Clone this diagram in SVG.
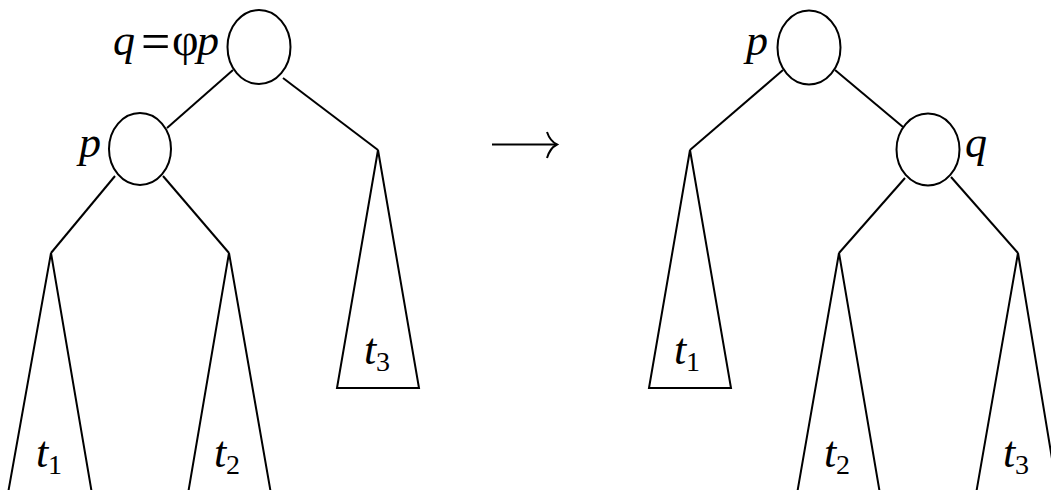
<svg xmlns="http://www.w3.org/2000/svg" width="1051" height="490" viewBox="0 0 1051 490">
<style>
.n{fill:#fff;stroke:#000;stroke-width:2}
.e{fill:none;stroke:#000;stroke-width:2;stroke-linejoin:miter}
.lb{font-family:"Liberation Serif","Times New Roman",serif;font-style:italic;font-size:44px;fill:#000}
.up{font-style:normal}
.sb{font-family:"Liberation Serif","Times New Roman",serif;font-size:28px;fill:#000}
</style>
<rect width="1051" height="490" fill="#fff"/>
<g id="connectors">
<line class="e" x1="233" y1="70" x2="167" y2="128"/>
<line class="e" x1="283" y1="78" x2="378" y2="150"/>
<line class="e" x1="115" y1="176" x2="51" y2="253"/>
<line class="e" x1="163" y1="176" x2="229" y2="253"/>
<line class="e" x1="783" y1="70" x2="690" y2="150"/>
<line class="e" x1="835" y1="70" x2="903" y2="127"/>
<line class="e" x1="905" y1="178" x2="839" y2="253"/>
<line class="e" x1="951" y1="177" x2="1018" y2="253"/>
<g id="arrow">
<line class="e" x1="492" y1="144.5" x2="556" y2="144.5"/>
<path class="e" d="M547,132 Q550,141 557,144.5 Q550,148 547,158"/>
</g>
</g>
<g id="left-q">
<ellipse class="n" cx="259" cy="47" rx="31.5" ry="37"/>
<text class="lb"><tspan x="113" y="55">q</tspan><tspan x="141" y="59" class="up" font-size="52">=</tspan><tspan x="172" y="55" class="up" font-size="46">φ</tspan><tspan x="197" y="55">p</tspan></text>
</g>
<g id="left-p">
<ellipse class="n" cx="140" cy="149" rx="31" ry="36"/>
<text class="lb" x="79" y="157">p</text>
</g>
<g id="left-t1">
<polyline class="e" points="7.7,495 51,253 92.2,495"/>
<text class="lb" x="36" y="467">t</text><text class="sb" x="48" y="474">1</text>
</g>
<g id="left-t2">
<polyline class="e" points="187.8,495 229,253 271.2,495"/>
<text class="lb" x="214" y="467">t</text><text class="sb" x="226" y="474">2</text>
</g>
<g id="left-t3">
<polygon class="e" points="337,388 378,150 419,388"/>
<text class="lb" x="364" y="364">t</text><text class="sb" x="376" y="371">3</text>
</g>
<g id="right-p">
<ellipse class="n" cx="809" cy="47.5" rx="31.5" ry="37"/>
<text class="lb" x="746" y="55">p</text>
</g>
<g id="right-q">
<ellipse class="n" cx="928" cy="149.5" rx="31.5" ry="36"/>
<text class="lb" x="965" y="157">q</text>
</g>
<g id="right-t1">
<polygon class="e" points="649,388 690,150 731,388"/>
<text class="lb" x="674" y="364">t</text><text class="sb" x="686" y="371">1</text>
</g>
<g id="right-t2">
<polyline class="e" points="796.8,495 839,253 880.2,495"/>
<text class="lb" x="824" y="467">t</text><text class="sb" x="836" y="474">2</text>
</g>
<g id="right-t3">
<polyline class="e" points="975.8,495 1018,253 1058,495"/>
<text class="lb" x="1003" y="467">t</text><text class="sb" x="1015" y="474">3</text>
</g>
</svg>
